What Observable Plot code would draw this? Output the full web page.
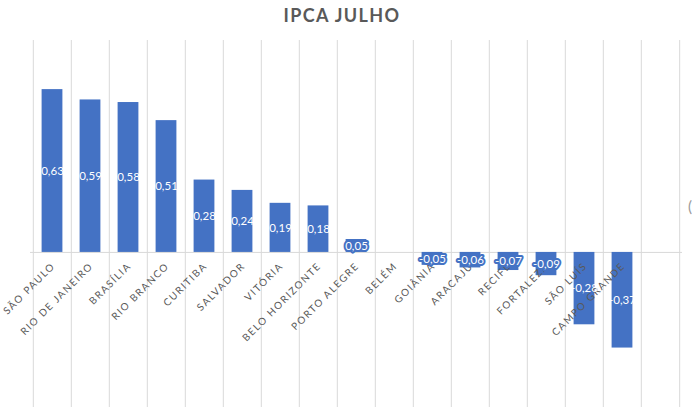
<!DOCTYPE html>
<html>
<head>
<meta charset="utf-8">
<script src="https://cdn.jsdelivr.net/npm/d3@7"></script>
<script src="https://cdn.jsdelivr.net/npm/@observablehq/plot@0.6"></script>
<style>
  html, body { margin: 0; padding: 0; background: #fff; }
  #wrap { position: relative; width: 692px; height: 418px; overflow: hidden; }
  #title { position: absolute; left: 0; width: 684px; top: 4px; text-align: center;
           font-family: Lato, "Open Sans", sans-serif; font-weight: bold; font-size: 18px;
           letter-spacing: 1.4px; color: #595959; }
  #edge { position: absolute; left: 688px; top: 197px; font-family: Lato, sans-serif; font-size: 15px; color: #9a9a9a; }
  g[fill="#595959"] text { letter-spacing: 1.5px; }
</style>
</head>
<body>
<div id="wrap">
  <div id="chart"></div>
  <div id="title">IPCA JULHO</div>
  <div id="edge">(</div>
</div>
<script>
const cities = ["SÃO PAULO","RIO DE JANEIRO","BRASÍLIA","RIO BRANCO","CURITIBA","SALVADOR","VITÓRIA","BELO HORIZONTE","PORTO ALEGRE","BELÉM","GOIÂNIA","ARACAJU","RECIFE","FORTALEZA","SÃO LUÍS","CAMPO GRANDE"];
const values = [0.63, 0.59, 0.58, 0.51, 0.28, 0.24, 0.19, 0.18, 0.05, null, -0.05, -0.06, -0.07, -0.09, -0.28, -0.37];

const data = cities.map((c, i) => ({city: c, value: values[i]}));
const withValue = data.filter(d => d.value != null);
const small = withValue.filter(d => Math.abs(d.value) < 0.15);
const large = withValue.filter(d => Math.abs(d.value) >= 0.15);
const fmt = v => v.toFixed(2).replace(".", ",");

const W = 692, H = 418, mL = 30, mR = 10, mT = 40, mB = 11;
const domain = [...cities, ""];
const step = (W - mL - mR) / domain.length;
const blue = "#4472C4";

const chart = Plot.plot({
  width: W, height: H,
  marginLeft: mL, marginRight: mR, marginTop: mT, marginBottom: mB,
  style: {fontFamily: "Lato, 'Open Sans', sans-serif", background: "#fff"},
  x: {domain, padding: 0, axis: null},
  y: {domain: [-0.6, 0.82], axis: null},
  marks: [
    Plot.ruleX(domain, {x: d => d, dx: -step / 2, stroke: "#d9d9d9", strokeWidth: 1}),
    Plot.ruleX([""], {x: d => d, dx: step / 2, stroke: "#d9d9d9", strokeWidth: 1}),
    Plot.ruleY([0], {stroke: "#d9d9d9", strokeWidth: 1}),
    Plot.barY(withValue, {x: "city", y: "value", fill: blue, insetLeft: 8.6, insetRight: 8.6}),
    Plot.text(cities, {x: d => d, y: () => 0, text: d => d, rotate: -45, textAnchor: "end",
      dx: 1, dy: 12, fill: "#595959", fontSize: 10}),
    Plot.text(large, {x: "city", y: d => d.value / 2, text: d => fmt(d.value),
      fill: "white", fontSize: 11.5}),
    Plot.text(small, {x: "city", y: d => d.value / 2, text: d => fmt(d.value),
      fill: "white", stroke: blue, strokeWidth: 4, strokeLinejoin: "round", paintOrder: "stroke",
      fontSize: 11.5})
  ]
});
document.getElementById("chart").appendChild(chart);
</script>
</body>
</html>
